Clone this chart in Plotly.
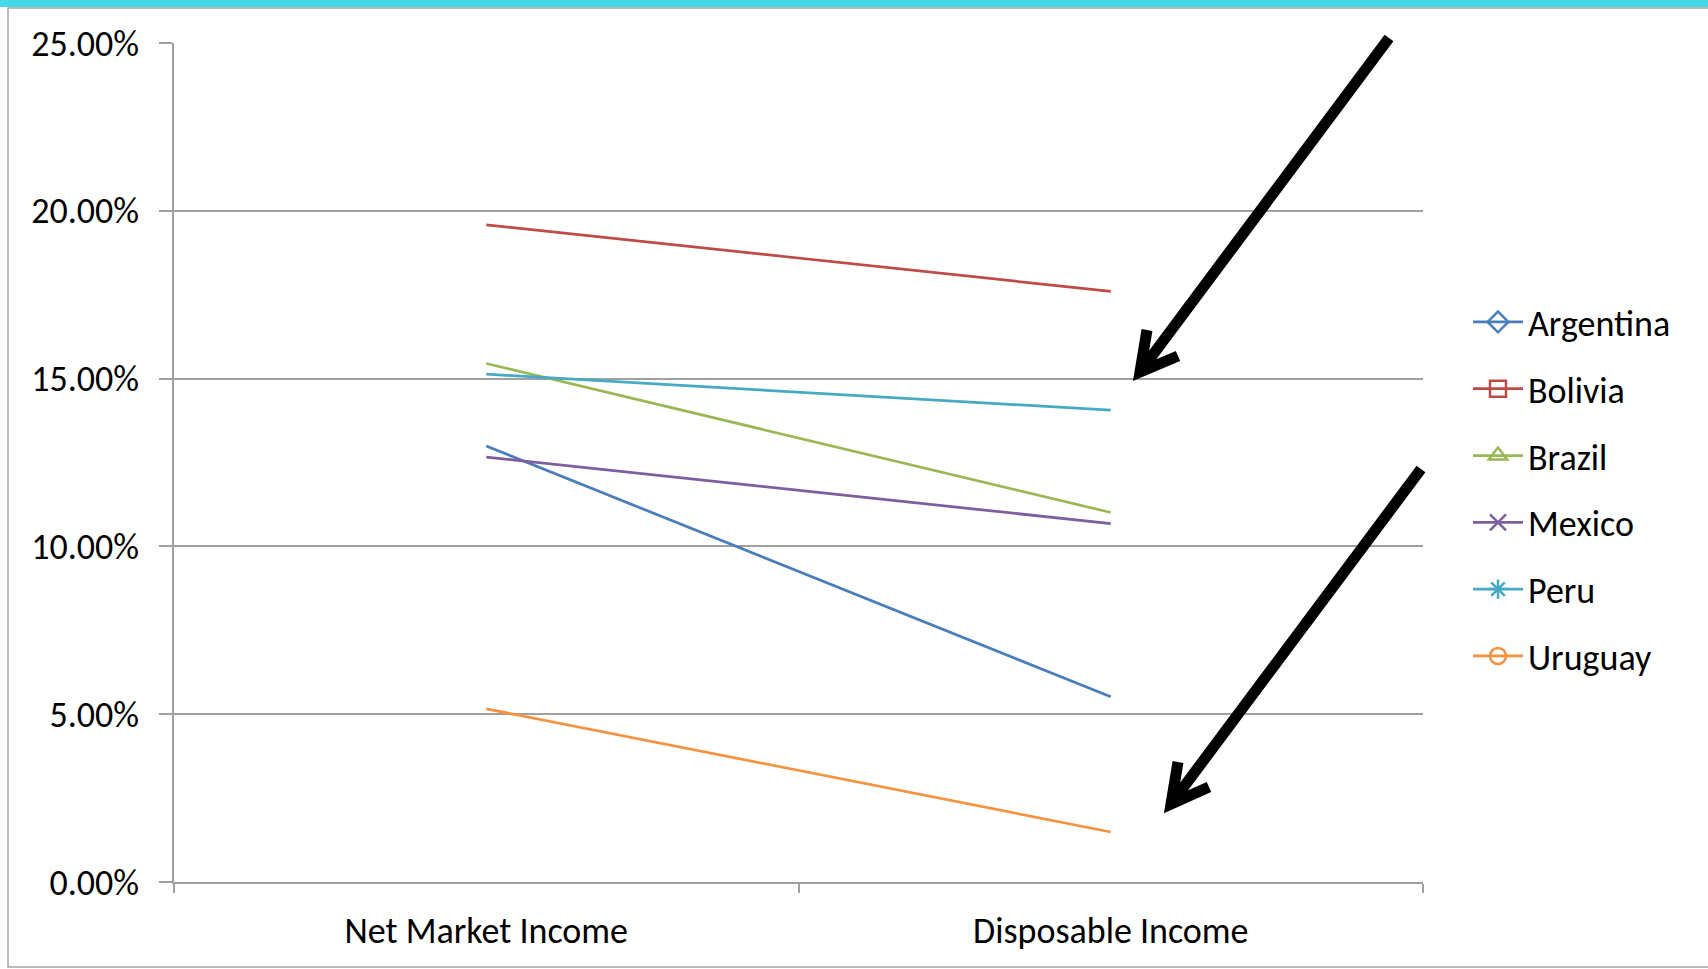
import plotly.graph_objects as go

categories = ["Net Market Income", "Disposable Income"]
countries = ["Argentina", "Bolivia", "Brazil", "Mexico", "Peru", "Uruguay"]
argentina = [0.1299, 0.0552]
bolivia = [0.1958, 0.1760]
brazil = [0.1545, 0.1101]
mexico = [0.1266, 0.1068]
peru = [0.1513, 0.1406]
uruguay = [0.0516, 0.0149]
series = [argentina, bolivia, brazil, mexico, peru, uruguay]
colors = ["#4A7EBB", "#BE4B48", "#98B954", "#7D5FA0", "#46AAC5", "#F69240"]
symbols = ["diamond-open", "square-open", "triangle-up-open", "x-thin-open", "asterisk-open", "circle-open"]
y_ticks = [0, 0.05, 0.10, 0.15, 0.20, 0.25]

W, H = 1708, 969
ML, MR, MT, MB = 174, 285, 43, 87
PW, PH = W - ML - MR, H - MT - MB


def px(x):
    return (x - ML) / PW


def py(y):
    return (H - MB - y) / PH


FONT = "Carlito, Lato, sans-serif"
FS = 36
fig = go.Figure()

for name, vals, col in zip(countries, series, colors):
    fig.add_trace(go.Scatter(x=categories, y=vals, mode="lines", name=name,
                             line=dict(color=col, width=2.75), showlegend=False,
                             hoverinfo="skip"))

for i, (name, col, sym) in enumerate(zip(countries, colors, symbols)):
    fig.add_trace(go.Scatter(x=[None], y=[None], mode="lines+markers", name=name,
                             legendgroup=f"g{i}", showlegend=True,
                             line=dict(color=col, width=2.75),
                             marker=dict(symbol=sym, size=16, color=col,
                                         line=dict(color=col, width=2.5))))

shapes = []
# frame
shapes.append(dict(type="rect", xref="paper", yref="paper", x0=px(8), x1=px(1730),
                   y0=py(967), y1=py(8), line=dict(color="#A6A6A6", width=1.5),
                   fillcolor="rgba(0,0,0,0)", layer="below"))
shapes.append(dict(type="rect", xref="paper", yref="paper", x0=px(-5), x1=px(1720),
                   y0=py(7), y1=py(-5), line=dict(width=0), fillcolor="#45D9E6"))


def arrow(tail, tip, arm1, arm2):
    p = lambda pt: f"{px(pt[0]):.5f},{py(pt[1]):.5f}"
    path = f"M{p(tail)} L{p(tip)} M{p(arm1)} L{p(tip)} L{p(arm2)}"
    return dict(type="path", xref="paper", yref="paper", path=path,
                line=dict(color="black", width=11))


shapes.append(arrow((1389, 38), (1140, 372), (1147, 330), (1178, 356)))
shapes.append(arrow((1421, 469), (1171, 804), (1178, 762), (1209, 787)))

fig.update_layout(
    width=W, height=H,
    margin=dict(l=ML, r=MR, t=MT, b=MB, autoexpand=False),
    paper_bgcolor="white", plot_bgcolor="white",
    font=dict(family=FONT, size=FS, color="black"),
    showlegend=True,
    legend=dict(x=px(1468), y=py(292), xanchor="left", yanchor="top",
                font=dict(family=FONT, size=FS, color="black"),
                tracegroupgap=17, traceorder="grouped", itemwidth=50,
                bgcolor="rgba(0,0,0,0)"),
    xaxis=dict(type="category", categoryorder="array", categoryarray=categories,
               range=[-0.5, 1.5], tickson="boundaries", ticks="outside", ticklen=9,
               tickcolor="#A0A0A0", tickwidth=1.5, showline=True, linecolor="#A0A0A0",
               linewidth=1.5, showgrid=False, zeroline=False, ticklabelstandoff=16,
               tickfont=dict(family=FONT, size=FS, color="black")),
    yaxis=dict(range=[0, 0.25], tickvals=y_ticks, tickformat=".2%", ticks="outside",
               ticklen=13, tickcolor="#A0A0A0", tickwidth=1.5, showline=True,
               linecolor="#A0A0A0", linewidth=1.5, showgrid=True, gridcolor="#A0A0A0",
               gridwidth=1.5, zeroline=False, ticklabelstandoff=13,
               tickfont=dict(family=FONT, size=FS, color="black")),
    shapes=shapes,
)

fig.write_html("out.html")
